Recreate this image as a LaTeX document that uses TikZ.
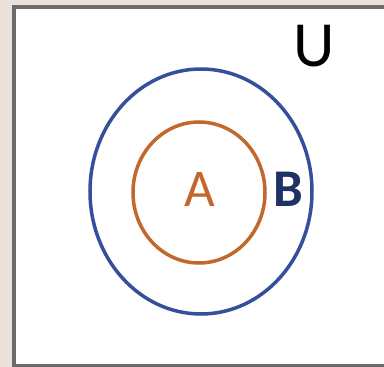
\documentclass[tikz,border=0pt]{standalone}
\usepackage{fontspec}
\setmainfont{Carlito}
\usetikzlibrary{shapes.geometric}
\definecolor{bgc}{HTML}{EAE2DA}
\definecolor{framec}{HTML}{6B6B6B}
\definecolor{bluec}{HTML}{34509A}
\definecolor{orangec}{HTML}{C2682C}
\definecolor{navyc}{HTML}{1F3266}
\begin{document}
\begin{tikzpicture}[x=1bp,y=1bp,
  setlabel/.style={inner sep=0pt, font=\fontsize{28}{28}\selectfont, scale=1.9, transform shape}]
\fill[bgc] (0,0) rectangle (384,367);
\useasboundingbox (0,0) rectangle (384,367);
\draw[framec, line width=4bp, fill=white] (14,360) rectangle (392,1);
\node[draw=bluec, line width=3.5bp, ellipse, minimum width=222bp, minimum height=245bp, inner sep=0pt] (B) at (201,175.5) {};
\node[draw=orangec, line width=3.5bp, ellipse, minimum width=132bp, minimum height=141bp, inner sep=0pt] (A) at (199,174.5) {};
\node[setlabel, text=orangec] (la) at (200,177.5) {A};
\node[setlabel, text=navyc, font=\fontsize{28}{28}\selectfont\bfseries] (lb) at (288,177.5) {B};
\node[setlabel, text=black, font=\fontsize{34}{34}\selectfont] (lu) at (314,321) {U};
\end{tikzpicture}
\end{document}
